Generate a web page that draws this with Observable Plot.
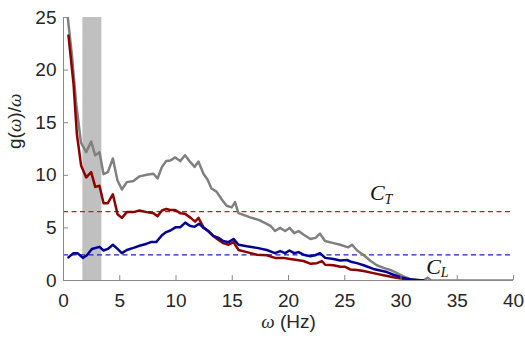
<!DOCTYPE html>
<html><head><meta charset="utf-8">
<script src="https://cdn.jsdelivr.net/npm/d3@7"></script>
<script src="https://cdn.jsdelivr.net/npm/@observablehq/plot@0.6"></script>
<style>body{margin:0;background:#fff}</style>
</head><body><div id="chart"></div>
<script>
// Gray series
const grayFreq = [0.36,0.74,1.13,1.55,2.02,2.46,2.82,3.2,3.56,3.94,4.39,4.8,5.19,5.63,6.22,6.76,7.4,8.0,8.36,8.75,9.13,9.48,9.93,10.37,10.8,11.2,11.65,12.0,12.44,12.8,13.15,13.6,14.1,14.5,14.95,15.25,15.55,16.6,17.5,18.4,18.8,19.25,19.7,20.1,20.5,20.9,21.35,21.95,22.4,22.8,23.25,24.0,24.6,25.3,25.65,26.1,26.7,27.3,27.85,28.45,29.05,29.65,30.2,30.8,31.7,32.05,32.35,32.7,40];
const grayVal  = [25.2,21.5,16.8,13.1,12.2,13.2,11.9,12.2,10.1,10.3,11.6,9.5,8.65,9.35,9.45,9.9,10.05,10.15,9.7,10.8,11.35,11.4,11.7,11.35,11.9,11.35,10.8,11.3,10.15,9.6,8.75,8.45,7.65,7.1,6.95,7.45,6.4,6.0,5.7,5.2,4.7,5.0,4.7,5.0,4.5,4.7,4.35,3.95,4.05,4.45,3.75,3.55,3.4,3.15,3.4,2.85,2.4,1.85,1.45,1.2,1.0,0.7,0.4,0.15,0.03,0.02,0.25,0.0,0.0];
// Red series
const redFreq = [0.44,0.89,1.19,1.57,2.02,2.46,2.82,3.2,3.56,3.94,4.39,4.8,5.19,5.63,6.22,6.76,7.4,8.0,8.36,8.75,9.13,9.48,9.93,10.37,10.8,11.25,11.7,12.0,12.44,12.89,13.33,13.78,14.2,14.67,15.11,15.56,16.3,17.2,18.07,18.8,19.56,20.15,20.75,21.33,21.93,22.52,22.97,23.26,24.0,24.6,25.04,25.48,26.08,26.67,27.55,28.44,29.33,30.22,31.1,32.0];
const redVal  = [23.3,18.7,13.9,10.9,9.8,10.3,8.9,9.0,7.35,7.35,8.2,6.3,5.95,6.5,6.5,6.65,6.5,6.4,6.1,6.65,6.8,6.7,6.7,6.4,6.35,6.0,5.6,5.95,5.05,4.65,4.2,3.85,3.55,3.4,3.65,2.9,2.7,2.45,2.4,2.15,2.15,2.05,1.95,1.85,1.6,1.65,1.85,1.5,1.45,1.3,1.3,1.05,1.0,0.9,0.7,0.5,0.3,0.15,0.05,0.0];
// Blue series
const blueFreq = [0.44,0.89,1.24,1.72,2.08,2.52,3.2,3.56,3.94,4.39,4.8,5.19,5.63,6.22,6.76,7.4,7.77,8.24,8.75,9.13,9.5,9.95,10.37,10.82,11.23,11.65,12.05,12.44,12.89,13.33,13.78,14.2,14.67,15.11,15.56,16.3,17.2,18.07,18.8,19.26,19.7,20.09,20.5,20.89,21.33,21.93,22.37,22.8,23.26,24.0,24.6,25.2,25.63,26.08,26.67,27.55,28.15,28.74,29.33,30.07,30.82,31.7,32.0];
const blueVal  = [2.2,2.6,2.6,2.15,2.4,3.0,3.2,2.85,3.0,3.4,3.0,2.6,2.9,3.1,3.3,3.5,3.65,3.65,4.3,4.6,4.75,5.05,5.05,5.5,5.2,5.1,5.4,5.0,4.7,4.25,4.05,3.75,3.65,3.95,3.4,3.25,3.1,2.9,2.6,2.8,2.6,2.85,2.6,2.7,2.45,2.3,2.4,2.6,2.15,2.05,1.9,1.95,1.75,1.65,1.45,1.1,0.95,0.8,0.55,0.3,0.1,0.03,0.0];

const xTicks = [0,5,10,15,20,25,30,35,40];
const yTicks = [0,5,10,15,20,25];
const bandLo = 1.72, bandHi = 3.41;
const thresholdNames = ["T","L"];
const thresholdValues = [6.55, 2.44];
const labelX = [27.9, 32.9];
const labelY = [8.3, 1.3];

const RED = "#8c0000", BLUE = "#000096", GRAY = "#808080";
const thrColors = ["#a52a2a", "#2020c0"];

const toRows = (F, V) => F.map((f, i) => ({f, v: V[i]}));
const gray = toRows(grayFreq, grayVal);
const red = toRows(redFreq, redVal);
const blue = toRows(blueFreq, blueVal);
const thresholds = thresholdNames.map((n, i) => ({n, v: thresholdValues[i], c: thrColors[i]}));
const labels = thresholdNames.map((n, i) => ({n, x: labelX[i], y: labelY[i]}));

const chart = Plot.plot({
  width: 525, height: 339,
  marginLeft: 63, marginRight: 12, marginTop: 17, marginBottom: 59,
  x: {domain: [0, 40]},
  y: {domain: [0, 25]},
  style: {fontFamily: "'Liberation Sans', Arial, sans-serif", fontSize: "19px", color: "#262626", background: "white"},
  marks: [
    Plot.rect([{x1: bandLo, x2: bandHi, y1: 0, y2: 25}], {x1: "x1", x2: "x2", y1: "y1", y2: "y2", fill: "#c0c0c0"}),
    Plot.ruleY(thresholds, {y: "v", stroke: "c", strokeWidth: 1.2, strokeDasharray: "5,3.5"}),
    Plot.line(gray, {x: "f", y: "v", stroke: GRAY, strokeWidth: 2.5, clip: true}),
    Plot.line(red, {x: "f", y: "v", stroke: RED, strokeWidth: 2.5, clip: true}),
    Plot.line(blue, {x: "f", y: "v", stroke: BLUE, strokeWidth: 2.5, clip: true}),
    Plot.ruleY([0], {stroke: "#8a8a8a", strokeWidth: 1}),
    Plot.ruleX([0], {stroke: "#8a8a8a", strokeWidth: 1}),
    Plot.ruleX(xTicks, {x: d => d, y1: 0, y2: 0, insetTop: -5, stroke: "#8a8a8a"}),
    Plot.ruleY(yTicks, {y: d => d, x1: 0, x2: 0, insetRight: -5, stroke: "#8a8a8a"}),
    Plot.axisX({ticks: xTicks, tickSize: 0, tickPadding: 13, label: null, fontSize: 19}),
    Plot.axisY({ticks: yTicks, tickSize: 0, tickPadding: 7, label: null, fontSize: 19}),
    Plot.text(["ω (Hz)"], {frameAnchor: "bottom", dy: 47, fontSize: 19, className: "axlabel"}),
    Plot.text(["g(ω)/ω"], {frameAnchor: "left", rotate: -90, dx: -49, fontSize: 19, className: "axlabel"}),
    Plot.text(labels, {x: "x", y: "y", text: () => "C", fontFamily: "'Liberation Serif', serif", fontStyle: "italic", fontSize: 22, fill: "#111"}),
    Plot.text(labels, {x: "x", y: "y", text: "n", dx: 11, dy: 6, fontFamily: "'Liberation Serif', serif", fontStyle: "italic", fontSize: 14, fill: "#111"})
  ]
});
// italicize the omega symbols in axis labels
d3.select(chart).selectAll("g.axlabel text").each(function() {
  const t = d3.select(this);
  const s = t.text();
  t.text(null);
  for (const part of s.split(/(ω)/)) {
    if (!part) continue;
    const sp = t.append("tspan").text(part);
    if (part === "ω") sp.attr("font-style", "italic").attr("font-family", "'Liberation Serif', serif");
  }
});
document.getElementById("chart").appendChild(chart);
</script>
</body></html>
